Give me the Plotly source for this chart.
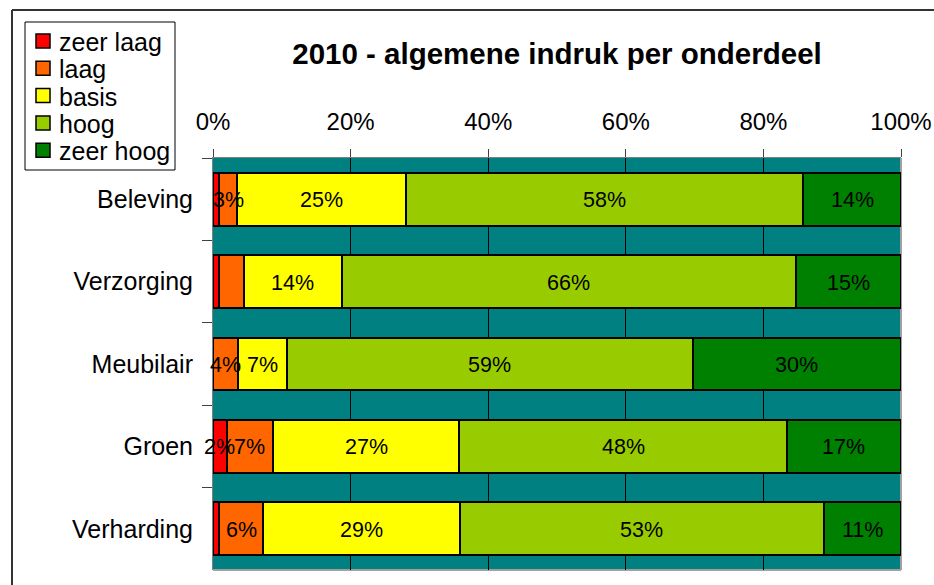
import plotly.graph_objects as go

categories = ["Beleving", "Verzorging", "Meubilair", "Groen", "Verharding"]
series_names = ["zeer laag", "laag", "basis", "hoog", "zeer hoog"]
zeer_laag = [0.9, 0.9, 0.0, 2.0, 0.9]
laag = [2.6, 3.6, 3.6, 6.7, 6.4]
basis = [24.5, 14.2, 7.2, 27.1, 28.6]
hoog = [57.8, 66.0, 58.9, 47.6, 52.9]
zeer_hoog = [14.2, 15.3, 30.3, 16.6, 11.2]
zeer_laag_labels = ["", "", "", "2%", ""]
laag_labels = ["3%", "", "4%", "7%", "6%"]
basis_labels = ["25%", "14%", "7%", "27%", "29%"]
hoog_labels = ["58%", "66%", "59%", "48%", "53%"]
zeer_hoog_labels = ["14%", "15%", "30%", "17%", "11%"]
colors = ["#FF0000", "#FF6600", "#FFFF00", "#99CC00", "#008000"]
tick_vals = [0, 20, 40, 60, 80, 100]

FONT = "Liberation Sans, Arial, sans-serif"
W, H = 934, 585
L, R, T, B = 213, 33, 158, 15
PW, PH = W - L - R, H - T - B


def px_x(x):
    return (x - L) / PW


def px_y(y):
    return (H - B - y) / PH


fig = go.Figure()
data = [zeer_laag, laag, basis, hoog, zeer_hoog]
labels = [zeer_laag_labels, laag_labels, basis_labels, hoog_labels, zeer_hoog_labels]
for name, vals, col in zip(series_names, data, colors):
    fig.add_trace(go.Bar(
        y=categories, x=vals, name=name, orientation="h",
        marker=dict(color=col, line=dict(color="black", width=2)),
        hoverinfo="x+y+name", showlegend=False,
    ))

annotations = []
# data labels on top of all bars, at the middle of each segment
base = [0.0] * len(categories)
for vals, txt in zip(data, labels):
    for cat, b, v, t in zip(categories, base, vals, txt):
        if t:
            annotations.append(dict(
                x=b + v / 2, y=cat, xref="x", yref="y", text=t,
                showarrow=False, xanchor="center", yanchor="middle",
                yshift=-1,
                font=dict(family=FONT, size=21.5, color="black")))
    base = [b + v for b, v in zip(base, vals)]

# manual legend (box, colour squares, names)
shapes = [
    dict(type="rect", xref="paper", yref="paper",
         x0=px_x(25), x1=px_x(175), y0=px_y(170), y1=px_y(22),
         line=dict(color="black", width=1), fillcolor="white", layer="above"),
]
leg_y0, leg_step = 41, 27.3
for i, (name, col) in enumerate(zip(series_names, colors)):
    cy = leg_y0 + i * leg_step
    shapes.append(dict(type="rect", xref="paper", yref="paper",
                       x0=px_x(36), x1=px_x(50), y0=px_y(cy + 7), y1=px_y(cy - 7),
                       line=dict(color="black", width=1.5), fillcolor=col,
                       layer="above"))
    annotations.append(dict(text=name, xref="paper", yref="paper",
                            x=px_x(57), y=px_y(cy + 1), xanchor="left",
                            yanchor="middle", showarrow=False,
                            font=dict(family=FONT, size=25, color="black")))

shapes += [
    dict(type="line", xref="paper", yref="paper",
         x0=px_x(12), x1=px_x(960), y0=px_y(10), y1=px_y(10),
         line=dict(color="#333333", width=2)),
    dict(type="line", xref="paper", yref="paper",
         x0=px_x(12), x1=px_x(12), y0=px_y(10), y1=px_y(600),
         line=dict(color="#333333", width=2)),
    dict(type="line", xref="paper", yref="paper",
         x0=1, x1=1, y0=0, y1=1, layer="below",
         line=dict(color="#A0A0A0", width=2)),
    dict(type="line", xref="paper", yref="paper",
         x0=0, x1=1, y0=0, y1=0, layer="below",
         line=dict(color="#A0A0A0", width=2)),
]

fig.update_layout(
    width=W, height=H,
    margin=dict(l=L, r=R, t=T, b=B, pad=0, autoexpand=False),
    barmode="stack", bargap=0.36, showlegend=False,
    plot_bgcolor="#008080", paper_bgcolor="white",
    font=dict(family=FONT, size=24, color="black"),
    title=dict(text="<b>2010 - algemene indruk per onderdeel</b>",
               font=dict(family=FONT, size=29.5, color="black"),
               x=px_x(557), xref="paper", xanchor="center",
               y=1 - 54 / H, yanchor="middle"),
    xaxis=dict(side="top", range=[0, 100.0001], tickvals=tick_vals,
               ticktext=[f"{v}%" for v in tick_vals],
               showgrid=True, gridcolor="black", gridwidth=1,
               ticks="outside", ticklen=8, tickcolor="#404040",
               showline=True, linecolor="#808080", linewidth=1,
               ticklabelstandoff=9, zeroline=False,
               tickfont=dict(family=FONT, size=24, color="black")),
    yaxis=dict(autorange="reversed", ticks="outside", tickson="boundaries",
               ticklen=10, tickcolor="#404040", showline=True,
               linecolor="#808080", linewidth=1, showgrid=False,
               ticklabelstandoff=14,
               tickfont=dict(family=FONT, size=25, color="black")),
    shapes=shapes,
    annotations=annotations,
)

fig.write_html("out.html", config={"displayModeBar": False},
               post_script="document.body.style.margin='0';"
                           "document.body.style.overflow='hidden';")
